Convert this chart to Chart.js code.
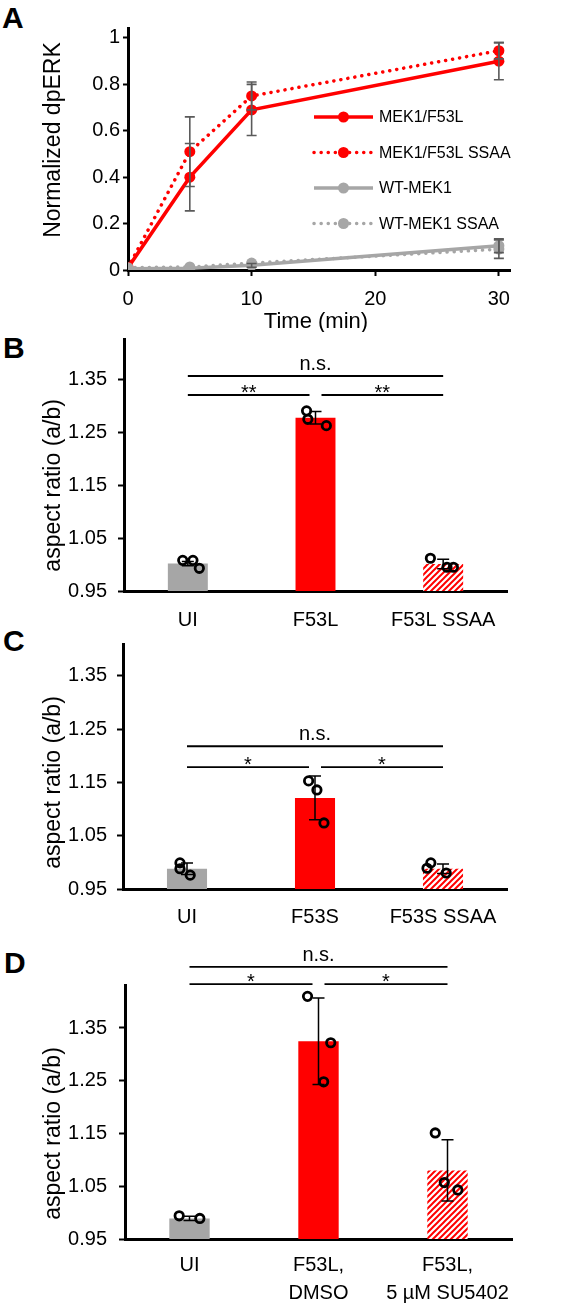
<!DOCTYPE html>
<html>
<head>
<meta charset="utf-8">
<script src="https://cdn.jsdelivr.net/npm/chart.js@4.4.1/dist/chart.umd.min.js"></script>
<style>
    body { margin: 0; background: #fff; width: 566px; height: 1308px; position: relative; overflow: hidden; font-family: 'Liberation Sans', Arial, sans-serif; }
    canvas { position: absolute; left: 0; }
    .panel { position: absolute; font-weight: bold; font-size: 30px; line-height: 30px; color: #000; }
</style>
</head>
<body>
<div class="panel" style="left:2px;top:3px">A</div>
<div class="panel" style="left:3px;top:333px">B</div>
<div class="panel" style="left:3px;top:626px">C</div>
<div class="panel" style="left:4px;top:948px">D</div>
<canvas id="cA" width="566" height="332" style="top:0"></canvas>
<canvas id="cB" width="566" height="298" style="top:332px"></canvas>
<canvas id="cC" width="566" height="310" style="top:630px"></canvas>
<canvas id="cD" width="566" height="368" style="top:940px"></canvas>
<script>
// ===== Data =====
// A: dpERK time course
const TIME_MIN = [0, 5, 10, 30];
const A_X_TICKS = [0, 10, 20, 30];
const A_Y_TICKS = [0, 0.2, 0.4, 0.6, 0.8, 1];
const F53L_MEAN = [0.01, 0.40, 0.69, 0.90];
const F53L_ERR = [0, 0.145, 0.11, 0.08];
const F53L_SSAA_MEAN = [0.01, 0.51, 0.75, 0.945];
const F53L_SSAA_ERR = [0, 0.15, 0.06, 0.035];
const WT_MEAN = [0.005, 0.008, 0.02, 0.105];
const WT_ERR = [0, 0, 0.008, 0.03];
const WT_SSAA_MEAN = [0.01, 0.013, 0.03, 0.09];
const WT_SSAA_ERR = [0, 0, 0, 0.04];

// B-D: aspect ratio
const BAR_Y_TICKS = [0.95, 1.05, 1.15, 1.25, 1.35];

const B_LABELS = ['UI', 'F53L', 'F53L SSAA'];
const B_MEAN = [1.002, 1.278, 1.001];
const B_ERR = [0.004, 0.012, 0.009];
const B_DOTS = [[1.008, 1.008, 0.993], [1.291, 1.275, 1.263], [1.012, 0.995, 0.995]];
const B_JITTER = [[-0.04, 0.04, 0.09], [-0.07, -0.06, 0.085], [-0.10, 0.03, 0.08]];
const B_SIG = [
    { from: 0, to: 2, y: 1.357, text: 'n.s.' },
    { from: 0, to: 1, y: 1.321, text: '**' },
    { from: 1, to: 2, y: 1.321, text: '**' }
];

const C_LABELS = ['UI', 'F53S', 'F53S SSAA'];
const C_MEAN = [0.988, 1.121, 0.988];
const C_ERR = [0.011, 0.041, 0.009];
const C_DOTS = [[0.999, 0.988, 0.976], [1.153, 1.136, 1.074], [0.999, 0.989, 0.980]];
const C_JITTER = [[-0.055, -0.055, 0.025], [-0.05, 0.015, 0.07], [-0.095, -0.125, 0.025]];
const C_SIG = [
    { from: 0, to: 2, y: 1.218, text: 'n.s.' },
    { from: 0, to: 1, y: 1.179, text: '*' },
    { from: 1, to: 2, y: 1.179, text: '*' }
];

const D_LABELS = ['UI', ['F53L,', 'DMSO'], ['F53L,', '5 µM SU5402']];
const D_MEAN = [0.989, 1.325, 1.080];
const D_ERR = [0.004, 0.082, 0.058];
const D_DOTS = [[0.994, 0.989], [1.410, 1.322, 1.248], [1.151, 1.057, 1.043]];
const D_JITTER = [[-0.08, 0.08], [-0.085, 0.095, 0.04], [-0.095, -0.025, 0.08]];
const D_SIG = [
    { from: 0, to: 2, y: 1.466, text: 'n.s.' },
    { from: 0, to: 1, y: 1.433, text: '*' },
    { from: 1, to: 2, y: 1.433, text: '*' }
];

const RED = '#ff0000';
const GRAY = '#a6a6a6';
const ERR_GRAY = '#5a5a5a';
const FONT = "'Liberation Sans', Arial, sans-serif";

Chart.defaults.font.family = FONT;
Chart.defaults.color = '#000';
Chart.defaults.animation = false;
Chart.defaults.plugins.legend.display = false;
Chart.defaults.plugins.tooltip.enabled = false;

// ===== Helpers =====
function drawErrors(chart, list) {
    const ctx = chart.ctx, ys = chart.scales.y;
    ctx.save();
    list.forEach(e => {
        const xs = chart.scales[e.axis];
        ctx.strokeStyle = e.color;
        ctx.lineWidth = e.width;
        e.mean.forEach((m, i) => {
            const d = e.err[i];
            if (!d) return;
            const x = xs.getPixelForValue(e.xs[i]);
            const y1 = ys.getPixelForValue(m - d), y2 = ys.getPixelForValue(m + d);
            ctx.beginPath();
            ctx.moveTo(x, y1); ctx.lineTo(x, y2);
            ctx.moveTo(x - e.cap, y1); ctx.lineTo(x + e.cap, y1);
            ctx.moveTo(x - e.cap, y2); ctx.lineTo(x + e.cap, y2);
            ctx.stroke();
        });
    });
    ctx.restore();
}

function drawBrackets(chart, list) {
    const ctx = chart.ctx, xs = chart.scales.x, ys = chart.scales.y;
    const n = chart.data.labels.length;
    ctx.save();
    ctx.strokeStyle = '#000'; ctx.fillStyle = '#000'; ctx.lineWidth = 1.8;
    ctx.textAlign = 'center'; ctx.textBaseline = 'alphabetic';
    ctx.font = '20px ' + FONT;
    list.forEach(b => {
        let x1 = xs.getPixelForValue(b.from), x2 = xs.getPixelForValue(b.to);
        if (b.from > 0) x1 += 6;
        if (b.to < n - 1) x2 -= 6;
        const y = ys.getPixelForValue(b.y);
        ctx.beginPath(); ctx.moveTo(x1, y); ctx.lineTo(x2, y); ctx.stroke();
        const star = b.text.startsWith('*');
        ctx.fillText(b.text, (x1 + x2) / 2, star ? y + 4 : y - 6);
    });
    ctx.restore();
}

function drawTitles(chart, list) {
    const ctx = chart.ctx;
    ctx.save();
    ctx.fillStyle = '#000'; ctx.textAlign = 'center'; ctx.textBaseline = 'middle';
    list.forEach(t => {
        const y = t.value !== undefined ? chart.scales.y.getPixelForValue(t.value) : t.y;
        ctx.save();
        ctx.font = t.size + 'px ' + FONT;
        ctx.translate(t.x, y);
        if (t.rot) ctx.rotate(-Math.PI / 2);
        ctx.fillText(t.text, 0, 0);
        ctx.restore();
    });
    ctx.restore();
}

function drawLegend(chart, lg) {
    const ctx = chart.ctx;
    ctx.save();
    chart.data.datasets.forEach((ds, i) => {
        const y = lg.y + i * lg.gap;
        ctx.strokeStyle = ds.borderColor;
        ctx.lineWidth = ds.borderWidth;
        ctx.lineCap = ds.borderCapStyle || 'butt';
        ctx.setLineDash(ds.borderDash || []);
        ctx.beginPath(); ctx.moveTo(lg.x, y); ctx.lineTo(lg.x + lg.len, y); ctx.stroke();
        ctx.setLineDash([]);
        ctx.fillStyle = ds.pointBackgroundColor;
        ctx.beginPath(); ctx.arc(lg.x + lg.len / 2, y, ds.pointRadius, 0, Math.PI * 2); ctx.fill();
        ctx.fillStyle = '#000';
        ctx.font = '16px ' + FONT;
        ctx.textAlign = 'left'; ctx.textBaseline = 'middle';
        ctx.fillText(ds.label, lg.textX, y + 1);
    });
    ctx.restore();
}

const extras = {
    id: 'extras',
    afterDatasetDraw(chart, args, opts) {
        if (!opts.errorsOnTop && args.index === 0) drawErrors(chart, opts.errors || []);
    },
    afterDatasetsDraw(chart, args, opts) {
        if (opts.errorsOnTop) drawErrors(chart, opts.errors || []);
    },
    afterDraw(chart, args, opts) {
        drawTitles(chart, opts.titles || []);
        if (opts.brackets) drawBrackets(chart, opts.brackets);
        if (opts.legend) drawLegend(chart, opts.legend);
    }
};

function hatch(ctx) {
    const c = document.createElement('canvas');
    c.width = c.height = 6;
    const g = c.getContext('2d');
    g.fillStyle = '#fff'; g.fillRect(0, 0, 6, 6);
    g.strokeStyle = RED; g.lineWidth = 2;
    g.beginPath();
    g.moveTo(0, 6); g.lineTo(6, 0);
    g.moveTo(-3, 3); g.lineTo(3, -3);
    g.moveTo(3, 9); g.lineTo(9, 3);
    g.stroke();
    return ctx.createPattern(c, 'repeat');
}

// ===== A. dpERK time course (line) =====
function renderTimeCourse() {
    const ctx = document.getElementById('cA').getContext('2d');
    const solid = { borderWidth: 3.5, pointRadius: 5.5, pointBorderWidth: 0, tension: 0, fill: false };
    const dotted = { borderWidth: 3.5, borderDash: [0.1, 7], borderCapStyle: 'round', pointRadius: 5.5, pointBorderWidth: 0, tension: 0, fill: false };
    const pts = arr => TIME_MIN.map((t, i) => ({ x: t, y: arr[i] }));

    new Chart(ctx, {
        type: 'line',
        data: {
            datasets: [
                { label: 'MEK1/F53L', data: pts(F53L_MEAN), borderColor: RED, pointBackgroundColor: RED, order: 2, ...solid },
                { label: 'MEK1/F53L SSAA', data: pts(F53L_SSAA_MEAN), borderColor: RED, pointBackgroundColor: RED, order: 2, ...dotted },
                { label: 'WT-MEK1', data: pts(WT_MEAN), borderColor: GRAY, pointBackgroundColor: GRAY, order: 1, ...solid },
                { label: 'WT-MEK1 SSAA', data: pts(WT_SSAA_MEAN), borderColor: GRAY, pointBackgroundColor: GRAY, order: 1, ...dotted }
            ]
        },
        options: {
            responsive: false,
            layout: { padding: { top: 28, right: 56, left: 0, bottom: 0 } },
            scales: {
                x: {
                    type: 'linear', min: 0, max: 30.9,
                    afterBuildTicks: s => { s.ticks = A_X_TICKS.map(v => ({ value: v })); },
                    afterFit: s => { s.height = 62; s.paddingLeft = 0; s.paddingRight = 0; },
                    ticks: { font: { size: 20 }, padding: 11, maxRotation: 0 },
                    grid: { drawOnChartArea: false, tickLength: 6, tickWidth: 2, tickColor: '#000' },
                    border: { color: '#000', width: 3 }
                },
                y: {
                    min: 0, max: 1.043,
                    afterBuildTicks: s => { s.ticks = A_Y_TICKS.map(v => ({ value: v })); },
                    afterFit: s => { s.width = 128; s.paddingTop = 0; s.paddingBottom = 0; },
                    ticks: { font: { size: 20 }, padding: 3, callback: v => String(+v.toFixed(1)) },
                    grid: { drawOnChartArea: false, tickLength: 5, tickWidth: 2, tickColor: '#000' },
                    border: { color: '#000', width: 3 }
                }
            },
            plugins: {
                extras: {
                    errorsOnTop: true,
                    errors: [
                        { axis: 'x', xs: TIME_MIN, mean: F53L_MEAN, err: F53L_ERR, color: ERR_GRAY, width: 1.6, cap: 5 },
                        { axis: 'x', xs: TIME_MIN, mean: F53L_SSAA_MEAN, err: F53L_SSAA_ERR, color: ERR_GRAY, width: 1.6, cap: 5 },
                        { axis: 'x', xs: TIME_MIN, mean: WT_MEAN, err: WT_ERR, color: ERR_GRAY, width: 1.6, cap: 5 },
                        { axis: 'x', xs: TIME_MIN, mean: WT_SSAA_MEAN, err: WT_SSAA_ERR, color: ERR_GRAY, width: 1.6, cap: 5 }
                    ],
                    titles: [
                        { text: 'Normalized dpERK', x: 54, value: 0.56, rot: true, size: 23 },
                        { text: 'Time (min)', x: 316, y: 322, size: 22 }
                    ],
                    legend: { x: 314, y: 117, gap: 35.5, len: 59, textX: 379 }
                }
            }
        },
        plugins: [extras]
    });
}

// ===== B-D. Aspect ratio (bar + dots) =====
function renderAspectPanel(id, labels, mean, err, dots, jitter, sig, cfg) {
    const canvas = document.getElementById(id);
    const ctx = canvas.getContext('2d');
    const pts = [];
    dots.forEach((vals, i) => vals.forEach((v, k) => pts.push({ x: i + jitter[i][k], y: v })));

    new Chart(ctx, {
        type: 'bar',
        data: {
            labels,
            datasets: [
                {
                    data: mean, order: 2, grouped: false,
                    backgroundColor: [GRAY, RED, hatch(ctx)],
                    borderWidth: 0, barPercentage: 0.313, categoryPercentage: 1
                },
                {
                    type: 'scatter', data: pts, order: 1, xAxisID: 'x2',
                    pointRadius: 4.2, pointBorderWidth: 2.8,
                    pointBorderColor: '#000', pointBackgroundColor: 'rgba(0,0,0,0)'
                }
            ]
        },
        options: {
            responsive: false,
            layout: { padding: { top: cfg.top, right: 566 - cfg.right, left: 0, bottom: 0 } },
            scales: {
                x: {
                    type: 'category', offset: true,
                    afterFit: s => { s.height = canvas.height - cfg.bottom; s.paddingLeft = 0; s.paddingRight = 0; },
                    ticks: { font: { size: 20, lineHeight: 1.4 }, padding: cfg.xPad, maxRotation: 0, autoSkip: false },
                    grid: { display: false, drawTicks: false },
                    border: { color: '#000', width: 3 }
                },
                x2: { type: 'linear', display: false, offset: false, min: -0.5, max: labels.length - 0.5 },
                y: {
                    min: 0.95, max: cfg.max,
                    afterBuildTicks: s => { s.ticks = BAR_Y_TICKS.map(v => ({ value: v })); },
                    afterFit: s => { s.width = cfg.left; s.paddingTop = 0; s.paddingBottom = 0; },
                    ticks: { font: { size: 20 }, padding: cfg.yPad, callback: v => v.toFixed(2) },
                    grid: { drawOnChartArea: false, tickLength: 6, tickWidth: 2, tickColor: '#000' },
                    border: { color: '#000', width: 3 }
                }
            },
            plugins: {
                extras: {
                    errors: [{ axis: 'x', xs: labels.map((_, i) => i), mean, err, color: '#000', width: 1.5, cap: 6 }],
                    titles: [{ text: 'aspect ratio (a/b)', x: 54, value: 1.15, rot: true, size: 23 }],
                    brackets: sig
                }
            }
        },
        plugins: [extras]
    });
}

renderTimeCourse();
renderAspectPanel('cB', B_LABELS, B_MEAN, B_ERR, B_DOTS, B_JITTER, B_SIG,
    { top: 5, bottom: 259, left: 124, right: 507, max: 1.427, xPad: 15, yPad: 11 });
renderAspectPanel('cC', C_LABELS, C_MEAN, C_ERR, C_DOTS, C_JITTER, C_SIG,
    { top: 14, bottom: 259, left: 123, right: 507, max: 1.410, xPad: 14, yPad: 10 });
renderAspectPanel('cD', D_LABELS, D_MEAN, D_ERR, D_DOTS, D_JITTER, D_SIG,
    { top: 45, bottom: 299, left: 125, right: 512, max: 1.4315, xPad: 12, yPad: 12 });
</script>
</body>
</html>
